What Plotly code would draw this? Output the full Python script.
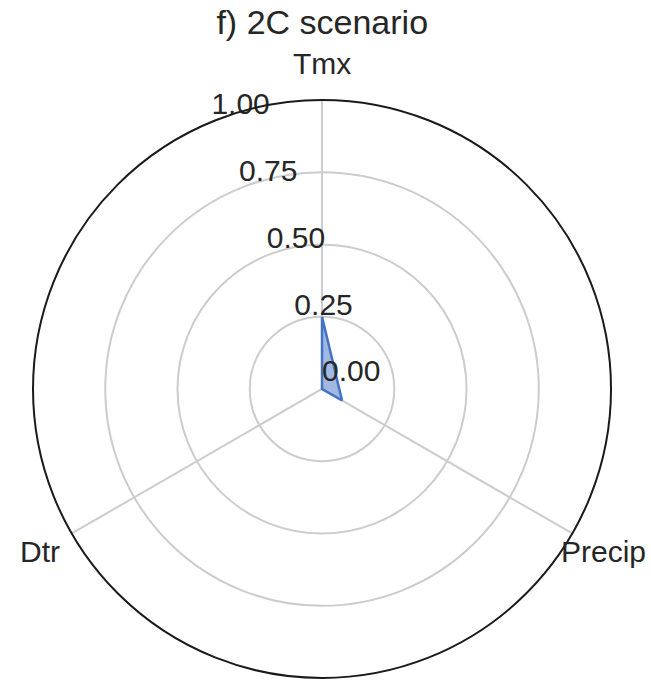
import math
import plotly.graph_objects as go

# Radar data
variables = ["Tmx", "Precip", "Dtr"]
scores = [0.25, 0.08, 0.0]
radial_ticks = [0.0, 0.25, 0.5, 0.75, 1.0]
radial_tick_labels = ["0.00", "0.25", "0.50", "0.75", "1.00"]

title_text = "f) 2C scenario"

# angular positions (degrees, clockwise from top)
spoke_angles = [0, 120, 240]
label_radius = 1.125
rlabel_angle = 337.5

W, H = 651, 680
DOM_X = [0.0507, 0.9386]
DOM_Y = [0.003, 0.853]

TEXT = "#262626"
FONT = "Liberation Sans, Arial, sans-serif"

fig = go.Figure()

# filled polygon
fig.add_trace(go.Scatterpolar(
    r=scores + [scores[0]],
    theta=spoke_angles + [spoke_angles[0]],
    mode="lines",
    fill="toself",
    fillcolor="rgba(68,114,196,0.5)",
    line=dict(color="#4472C4", width=2.5),
    hoverinfo="skip",
    showlegend=False,
))

# radial tick labels
fig.add_trace(go.Scatterpolar(
    r=radial_ticks,
    theta=[rlabel_angle] * len(radial_ticks),
    mode="text",
    text=radial_tick_labels,
    textposition="top right",
    textfont=dict(family=FONT, size=30, color=TEXT),
    cliponaxis=False,
    hoverinfo="skip",
    showlegend=False,
))

# variable labels just outside the outer ring (polar -> paper coordinates)
cx = (DOM_X[0] + DOM_X[1]) / 2
cy = (DOM_Y[0] + DOM_Y[1]) / 2
radius_px = min((DOM_X[1] - DOM_X[0]) * W, (DOM_Y[1] - DOM_Y[0]) * H) / 2
for name, ang in zip(variables, spoke_angles):
    a = math.radians(ang)
    fig.add_annotation(
        x=cx + label_radius * radius_px * math.sin(a) / W,
        y=cy + label_radius * radius_px * math.cos(a) / H,
        xref="paper", yref="paper",
        text=name, showarrow=False,
        xanchor="center", yanchor="middle",
        font=dict(family=FONT, size=30, color=TEXT),
    )

fig.update_layout(
    width=W,
    height=H,
    margin=dict(l=0, r=0, t=0, b=0),
    paper_bgcolor="white",
    plot_bgcolor="white",
    font=dict(family=FONT, color=TEXT),
    title=dict(
        text=title_text,
        x=0.495,
        xanchor="center",
        y=0.968,
        yanchor="middle",
        font=dict(family=FONT, size=34, color=TEXT),
    ),
    polar=dict(
        domain=dict(x=DOM_X, y=DOM_Y),
        bgcolor="white",
        radialaxis=dict(
            range=[0, 1],
            tickvals=radial_ticks,
            showticklabels=False,
            ticks="",
            showline=False,
            gridcolor="#cccccc",
            gridwidth=1.5,
        ),
        angularaxis=dict(
            rotation=90,
            direction="clockwise",
            tickvals=spoke_angles,
            showticklabels=False,
            ticks="",
            showline=True,
            linecolor="#1a1a1a",
            linewidth=2,
            gridcolor="#cccccc",
            gridwidth=1.5,
        ),
    ),
)

fig.write_html("out.html")
